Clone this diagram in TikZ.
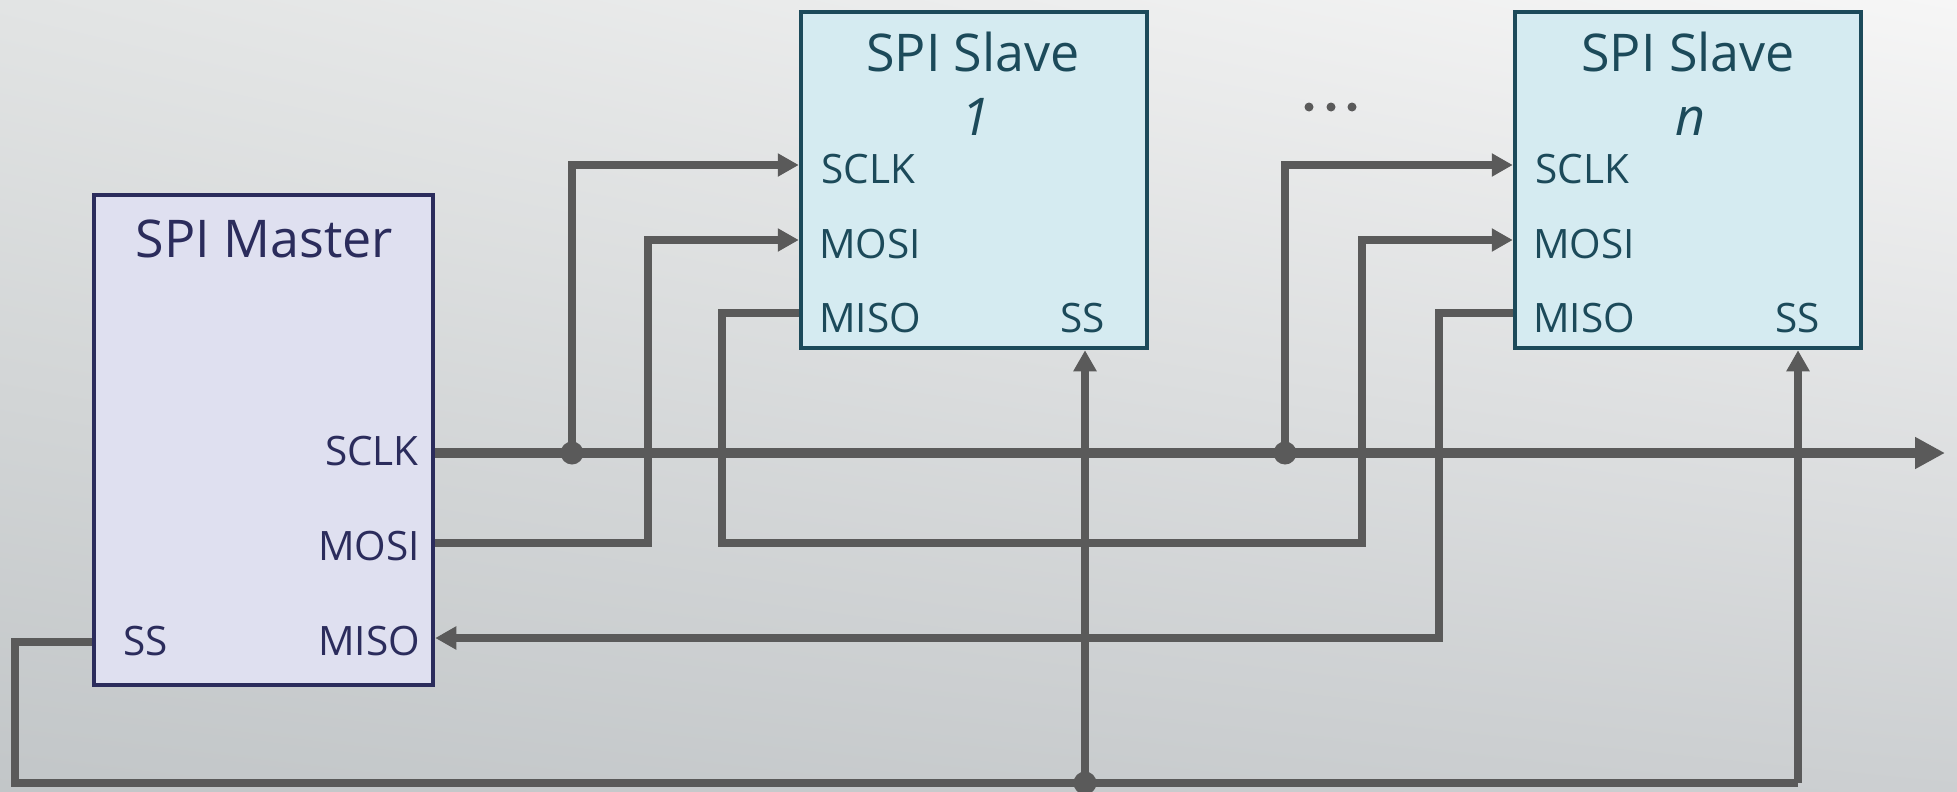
\documentclass[tikz,border=0pt]{standalone}
\usepackage{fontspec}
\setmainfont{Open Sans}
\usetikzlibrary{arrows.meta,shadings}

\definecolor{wirec}{HTML}{5A5A5A}
\definecolor{mfill}{HTML}{DFE0F0}
\definecolor{mline}{HTML}{2B2C5C}
\definecolor{sfill}{HTML}{D5EBF1}
\definecolor{sline}{HTML}{1C4A5A}

\tikzset{
  wire/.style={draw=wirec, line width=7.5pt},
  busline/.style={draw=wirec, line width=9.5pt},
  intip/.style={-{Triangle[length=21pt,width=22pt]}},
  bustip/.style={-{Triangle[length=30pt,width=30pt]}},
  masterbox/.style={draw=mline, fill=mfill, line width=4.5pt, minimum width=339pt, minimum height=490pt, inner sep=0pt},
  slavebox/.style={draw=sline, fill=sfill, line width=4.5pt, minimum width=346pt, minimum height=336pt, inner sep=0pt},
  mtitle/.style={text=mline, font=\fontsize{52}{60}\selectfont, inner sep=0pt, anchor=base},
  stitle/.style={text=sline, font=\fontsize{52}{60}\selectfont, inner sep=0pt, anchor=base},
  mport/.style={text=mline, font=\fontsize{40.5}{46}\selectfont, inner sep=0pt},
  sport/.style={text=sline, font=\fontsize{40.5}{46}\selectfont, inner sep=0pt},
  junction/.style={fill=wirec},
}

\begin{document}
\begin{tikzpicture}[x=1pt,y=-1pt]
\useasboundingbox (0,0) rectangle (1957,792);
\shade[upper left={rgb,255:red,226;green,228;blue,228},
       upper right={rgb,255:red,246;green,246;blue,246},
       lower left={rgb,255:red,194;green,198;blue,200},
       lower right={rgb,255:red,204;green,207;blue,209}]
  (0,0) rectangle (1957,792);

% blocks
\node[masterbox] (master) at (263.5,440) {};
\node[slavebox] (s1) at (974,180) {};
\node[slavebox] (sn) at (1688,180) {};

% master labels
\node[mtitle] (mt) at (264.5,257) {SPI Master};
\node[mport, anchor=base east] (msclk) at (419,465) {SCLK};
\node[mport, anchor=base east] (mmosi) at (420,560) {MOSI};
\node[mport, anchor=base east] (mmiso) at (420,655) {MISO};
\node[mport, anchor=base west] (mss) at (123,655) {SS};

% slave 1 labels
\node[stitle] (s1t) at (973,72) {SPI Slave};
\node[stitle] (s1i) at (976,135) {\itshape 1};
\node[sport, anchor=base west] (s1sclk) at (821,183) {SCLK};
\node[sport, anchor=base west] (s1mosi) at (819,258) {MOSI};
\node[sport, anchor=base west] (s1miso) at (819,332) {MISO};
\node[sport, anchor=base east] (s1ss) at (1105,332) {SS};

% slave n labels
\node[stitle] (snt) at (1688,72) {SPI Slave};
\node[stitle] (sni) at (1690,135) {\itshape n};
\node[sport, anchor=base west] (snsclk) at (1535,183) {SCLK};
\node[sport, anchor=base west] (snmosi) at (1533,258) {MOSI};
\node[sport, anchor=base west] (snmiso) at (1533,332) {MISO};
\node[sport, anchor=base east] (snss) at (1820,332) {SS};

% ellipsis between the slaves
\foreach \dx in {1309,1331,1352} \fill[wirec] (\dx,107) circle (4.5);

% junction points
\coordinate (j1) at (572,453);
\coordinate (j2) at (1285,453);
\coordinate (j3) at (1085,783);
\coordinate (busend) at (1945,453);

% clock bus
\draw[busline, bustip] (master.east |- 0,453) -- (busend);
\draw[wire, intip] (j1) |- (s1.west |- 0,165);
\draw[wire, intip] (j2) |- (sn.west |- 0,165);

% MOSI -> slave 1
\draw[wire, intip] (master.east |- 0,543) -| (648,240) -- (s1.west |- 0,240);
% slave 1 MISO -> slave n MOSI
\draw[wire, intip] (s1.west |- 0,313) -| (722,543) -| (1362,240) -- (sn.west |- 0,240);
% slave n MISO -> master
\draw[wire, intip] (sn.west |- 0,313) -| (1439,638) -- (master.east |- 0,638);

% slave select
\draw[wire] (master.west |- 0,642) -| (15,783) -- (1798,783);
\draw[wire, intip] (1798,783) -- (1798,0 |- sn.south);
\draw[wire, intip] (j3) -- (1085,0 |- s1.south);

\fill[junction] (j1) circle (11.5);
\fill[junction] (j2) circle (11.5);
\fill[junction] (j3) circle (11.5);
\end{tikzpicture}
\end{document}
